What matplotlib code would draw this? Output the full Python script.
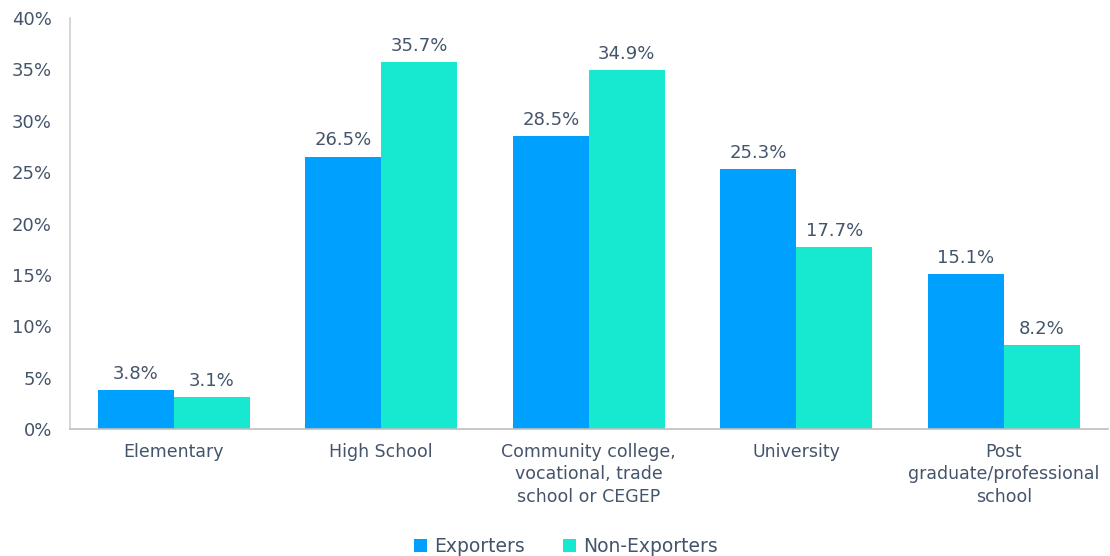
import matplotlib
matplotlib.use("Agg")
import matplotlib.pyplot as plt
import numpy as np

categories = ["Elementary", "High School", "Community college,\nvocational, trade\nschool or CEGEP",
              "University", "Post\ngraduate/professional\nschool"]
exporters = [3.8, 26.5, 28.5, 25.3, 15.1]
non_exporters = [3.1, 35.7, 34.9, 17.7, 8.2]
yticks = [0, 5, 10, 15, 20, 25, 30, 35, 40]

text_col = "#44546A"
blue = "#00A0FF"
teal = "#17E8D0"

plt.rcParams["font.family"] = ["DejaVu Sans"]

fig = plt.figure(figsize=(11.1, 5.56), dpi=100)
ax = fig.add_axes([0.063, 0.228, 0.935, 0.740])

x = np.arange(len(categories))
w = 0.366
b1 = ax.bar(x - w / 2, exporters, w, color=blue, label="Exporters")
b2 = ax.bar(x + w / 2, non_exporters, w, color=teal, label="Non-Exporters")

for bars, vals in ((b1, exporters), (b2, non_exporters)):
  for r, v in zip(bars, vals):
    ax.text(r.get_x() + r.get_width() / 2, v + 0.7, f"{v:.1f}%", ha="center", va="bottom",
            fontsize=13, color=text_col)

ax.set_xlim(-0.5, 4.5)
ax.set_ylim(0, 40)
ax.set_yticks(yticks)
ax.set_yticklabels([f"{t}%" for t in yticks], fontsize=13, color=text_col)
ax.set_xticks(x)
ax.set_xticklabels(categories, fontsize=12.5, color=text_col, linespacing=1.3)
ax.tick_params(axis="both", length=0)
ax.tick_params(axis="y", pad=13)
ax.tick_params(axis="x", pad=10)

for s in ("top", "right"):
  ax.spines[s].set_visible(False)
ax.spines["left"].set_color("#d0d0d0")
ax.spines["bottom"].set_color("#bfbfbf")
ax.spines["left"].set_linewidth(1.2)
ax.spines["bottom"].set_linewidth(1.2)

leg = fig.legend(handles=[b1, b2], loc="lower center", bbox_to_anchor=(0.51, -0.03), ncol=2,
                 frameon=False, fontsize=13.5, handlelength=0.7, handleheight=0.7,
                 handletextpad=0.4, columnspacing=2.0)
for t in leg.get_texts():
  t.set_color(text_col)

fig.savefig("out.png", dpi=100)
